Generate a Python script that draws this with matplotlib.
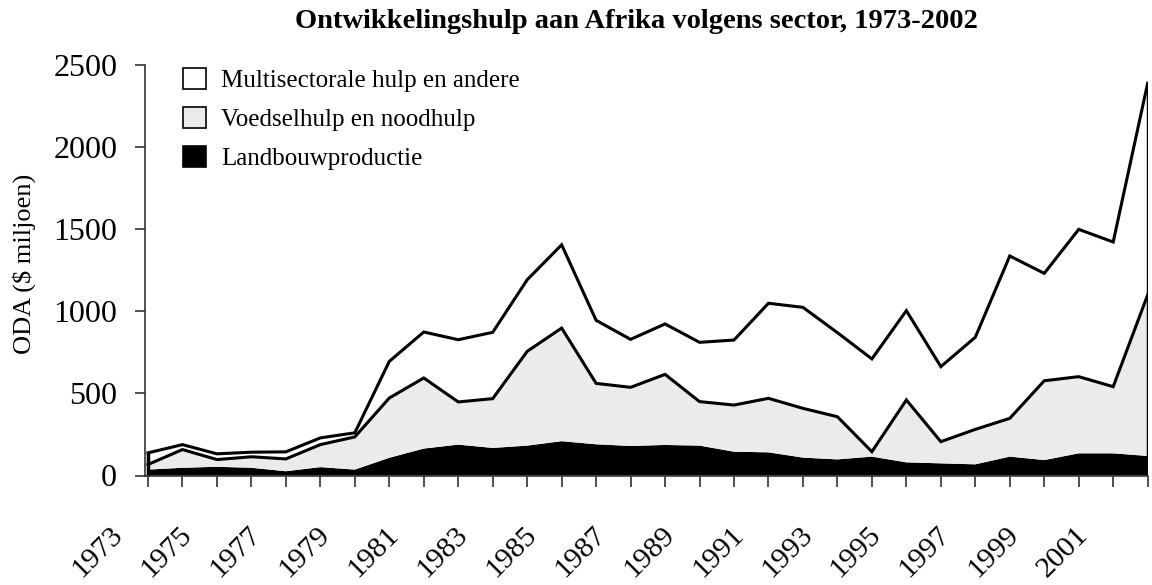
import numpy as np
import matplotlib
matplotlib.use("Agg")
import matplotlib.pyplot as plt
from matplotlib.patches import Patch
from matplotlib.transforms import ScaledTranslation

plt.rcParams['font.family'] = ['Liberation Serif', 'DejaVu Serif']

# ODA aan Afrika per sector ($ miljoen)
years = np.arange(1973, 2003)
landbouw = [36, 47, 53, 47, 26, 51, 36, 108, 164, 188, 168, 182, 209, 190, 180,
            186, 182, 145, 141, 109, 98, 115, 80, 74, 68, 115, 94, 135, 135, 119]
voedsel = [31, 111, 44, 67, 75, 137, 199, 364, 430, 260, 300, 574, 689, 371, 357,
           430, 268, 284, 329, 300, 260, 30, 380, 132, 213, 233, 483, 467, 406, 981]
multi = [71, 30, 35, 28, 43, 41, 25, 223, 280, 379, 404, 436, 507, 384, 292,
         307, 361, 396, 579, 615, 512, 565, 544, 457, 561, 989, 654, 897, 881, 1289]

labels = ['Multisectorale hulp en andere', 'Voedselhulp en noodhulp', 'Landbouwproductie']
colors = ['white', '#ebebeb', 'black']
yticks = [0, 500, 1000, 1500, 2000, 2500]

cum1 = np.array(landbouw)
cum2 = cum1 + np.array(voedsel)
cum3 = cum2 + np.array(multi)

W, H = 1152, 585
fig = plt.figure(figsize=(W / 100, H / 100), dpi=100)
ax = fig.add_axes([145 / W, 1 - 475.5 / H, (1148 - 145) / W, (475.5 - 65) / H])

ax.fill_between(years, 0, cum1, facecolor=colors[2], lw=0)
ax.fill_between(years, cum1, cum2, facecolor=colors[1], lw=0)
ax.fill_between(years, cum2, cum3, facecolor=colors[0], lw=0)
ax.plot(years, cum2, color='black', lw=2.2, solid_joinstyle='miter')
ax.plot(years, cum3, color='black', lw=2.2, solid_joinstyle='miter')
ax.vlines([years[0], years[-1]], 0, [cum3[0], cum3[-1]], colors='black', lw=2.5)

ax.set_xlim(1972.913, 2002.01)
ax.set_ylim(0, 2500)

for s in ['top', 'right']:
    ax.spines[s].set_visible(False)
for s in ['left', 'bottom']:
    ax.spines[s].set_linewidth(1.2)
    ax.spines[s].set_color('#333333')

ax.set_yticks(yticks)
ax.tick_params(axis='y', direction='out', length=7, width=1.2, pad=13,
               labelsize=23, color='#333333')
ax.set_xticks(years)
ax.set_xticklabels([str(y) if (y - 1973) % 2 == 0 else '' for y in years])
ax.tick_params(axis='x', direction='out', length=8, width=1.2, pad=25,
               labelsize=21.5, color='#333333')
offset = ScaledTranslation(-0.2, 0, fig.dpi_scale_trans)
for lab in ax.get_xticklabels():
    lab.set_rotation(45)
    lab.set_ha('right')
    lab.set_transform(lab.get_transform() + offset)

handles = [Patch(facecolor=c, edgecolor='black', lw=1.2) for c in colors]
ax.legend(handles, labels, loc='upper left',
          bbox_to_anchor=(183 / W, 1 - 68 / H), bbox_transform=fig.transFigure,
          frameon=False, borderpad=0, borderaxespad=0, handlelength=0.92,
          handleheight=0.92, handletextpad=0.6, labelspacing=0.6, fontsize=18)

fig.text(24 / W, 1 - 264 / H, 'ODA ($ miljoen)', rotation=90, ha='center',
         va='center', fontsize=19)
fig.text(636 / W, 1 - 21 / H, 'Ontwikkelingshulp aan Afrika volgens sector, 1973-2002',
         ha='center', va='center', fontsize=20.5, fontweight='bold')

fig.savefig('out.png', dpi=100)
